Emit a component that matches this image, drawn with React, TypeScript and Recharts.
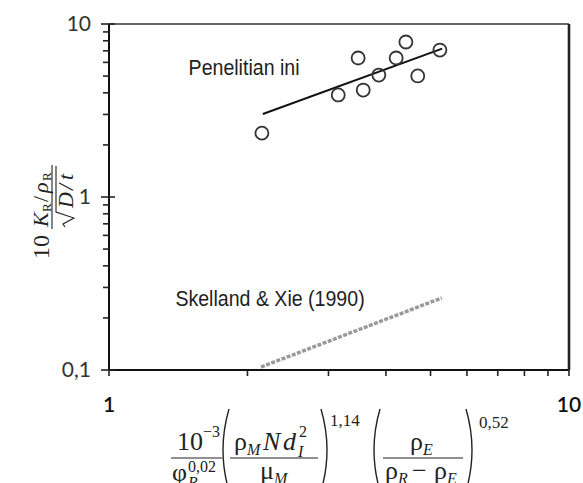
import React from 'react';
import { ComposedChart, Scatter, Line, XAxis, YAxis, ReferenceLine, ReferenceDot } from 'recharts';

// Measured points (this study)
const pointX = [2.15, 3.15, 3.57, 3.48, 3.86, 4.21, 4.42, 4.69, 5.24];
const pointY = [2.34, 3.89, 4.15, 6.36, 5.07, 6.36, 7.87, 5.01, 7.07];
// Fitted line (this study)
const fitX = [2.16, 5.3];
const fitY = [3.02, 7.2];
// Skelland & Xie (1990) correlation
const skX = [2.14, 5.29];
const skY = [0.104, 0.261];

const xTicks = [1, 2, 3, 4, 5, 6, 7, 8, 9, 10];
const yTicks = [0.1, 0.2, 0.3, 0.4, 0.5, 0.6, 0.7, 0.8, 0.9, 1, 2, 3, 4, 5, 6, 7, 8, 9, 10];
const xTickLabels: Record<string, string> = { '1': '1', '10': '10' };
const yTickLabels: Record<string, string> = { '0.1': '0,1', '1': '1', '10': '10' };

const seriesLabel1 = 'Penelitian ini';
const seriesLabel2 = 'Skelland & Xie (1990)';

const points = pointX.map((x, i) => ({ x, y: pointY[i] }));
const fitData = fitX.map((x, i) => ({ x, y: fitY[i] }));
const skData = skX.map((x, i) => ({ x, y: skY[i] }));

const SANS = "'Liberation Sans', Arial, sans-serif";
const SERIF = "'Liberation Serif', 'DejaVu Serif', serif";
const TICKFONT = "Lato, 'Open Sans', sans-serif";

const YTick = (props: any) => {
  const { x, y, payload } = props;
  const lbl = yTickLabels[String(payload.value)];
  const major = lbl !== undefined;
  return (
    <g>
      <line x1={x - (major ? 8 : 6)} x2={x + (major ? 6 : 0)} y1={y} y2={y} stroke="#222" strokeWidth={1.6} />
      {major && (
        <text x={x - 18} y={y + 7} textAnchor="end" fontSize={21} fontFamily={TICKFONT} fill="#333">
          {lbl}
        </text>
      )}
    </g>
  );
};

const XTick = (props: any) => {
  const { x, y, payload } = props;
  const lbl = xTickLabels[String(payload.value)];
  return (
    <g>
      <line x1={x} x2={x} y1={y} y2={y + 6} stroke="#222" strokeWidth={1.6} />
      {lbl !== undefined && (
        <text x={x} y={y + 42} textAnchor="middle" fontSize={21} fontWeight={600} fontFamily={TICKFONT} fill="#111">
          {lbl}
        </text>
      )}
    </g>
  );
};

const Paren = ({ x, open }: { x: number; open: boolean }) => {
  const c = open ? x - 12 : x + 12;
  return <path d={`M ${x} 409 Q ${c} 450 ${x} 491`} fill="none" stroke="#222" strokeWidth={1.4} />;
};

const XLabel = (props: any) => {
  const vb = props.viewBox || { x: 109, y: 370 };
  const dx = vb.x - 109;
  const dy = vb.y - 370;
  return (
    <g transform={`translate(${dx},${dy})`} fontFamily={SERIF} fill="#222">
      {/* 10^-3 / phi_R^0,02 */}
      <text x={177} y={450} fontSize={26}>10</text>
      <text x={203} y={437} fontSize={16}>−3</text>
      <line x1={171} x2={222} y1={458} y2={458} stroke="#222" strokeWidth={1.1} />
      <text x={172} y={481} fontSize={26}>φ</text>
      <text x={188} y={472} fontSize={16}>0,02</text>
      <text x={188} y={488} fontSize={16} fontStyle="italic">R</text>
      {/* ( rho_M N d_I^2 / mu_M ) ^1,14 */}
      <Paren x={229} open />
      <text x={234} y={450} fontSize={26}>ρ</text>
      <text x={247} y={455} fontSize={16} fontStyle="italic">M</text>
      <text x={263} y={450} fontSize={26} fontStyle="italic">N</text>
      <text x={283} y={450} fontSize={26} fontStyle="italic">d</text>
      <text x={299} y={437} fontSize={16}>2</text>
      <text x={298} y={457} fontSize={16} fontStyle="italic">I</text>
      <line x1={230} x2={318} y1={458} y2={458} stroke="#222" strokeWidth={1.1} />
      <text x={260} y={479} fontSize={26}>μ</text>
      <text x={274} y={484} fontSize={16} fontStyle="italic">M</text>
      <Paren x={321} open={false} />
      <text x={330} y={426} fontSize={17}>1,14</text>
      {/* ( rho_E / (rho_R - rho_E) ) ^0,52 */}
      <Paren x={380} open />
      <text x={410} y={450} fontSize={26}>ρ</text>
      <text x={423} y={455} fontSize={16} fontStyle="italic">E</text>
      <line x1={383} x2={463} y1={458} y2={458} stroke="#222" strokeWidth={1.1} />
      <text x={385} y={479} fontSize={26}>ρ</text>
      <text x={398} y={484} fontSize={16} fontStyle="italic">R</text>
      <text x={412} y={479} fontSize={26}>−</text>
      <text x={434} y={479} fontSize={26}>ρ</text>
      <text x={447} y={484} fontSize={16} fontStyle="italic">E</text>
      <Paren x={466} open={false} />
      <text x={479} y={428} fontSize={17}>0,52</text>
    </g>
  );
};

const YLabel = (props: any) => {
  const vb = props.viewBox || { x: 0, y: 24 };
  const dy = vb.y - 24;
  return (
    <g transform={`translate(0,${dy}) rotate(-90)`} fontFamily={SERIF} fill="#222">
      <text x={-259} y={49} fontSize={24}>10</text>
      <text x={-227} y={48} fontSize={22} fontStyle="italic">K</text>
      <text x={-212} y={51} fontSize={13}>R</text>
      <text x={-202} y={48} fontSize={22}>/</text>
      <text x={-193} y={48} fontSize={22} fontStyle="italic">ρ</text>
      <text x={-181} y={51} fontSize={13}>R</text>
      <line x1={-229} x2={-165} y1={52} y2={52} stroke="#222" strokeWidth={1.1} />
      <path d="M -227 65 L -224 63 L -218 74 L -212 56 L -166 56" fill="none" stroke="#222" strokeWidth={1.1} />
      <text x={-208} y={73} fontSize={22} fontStyle="italic">D</text>
      <text x={-190} y={73} fontSize={22} fontStyle="italic">/</text>
      <text x={-180} y={73} fontSize={22} fontStyle="italic">t</text>
    </g>
  );
};

const TextLabel = (text: string) => (props: any) => {
  const vb = props.viewBox || { x: 0, y: 0 };
  return (
    <text
      transform={`translate(${vb.x},${vb.y + 8}) scale(0.89,1)`}
      textAnchor="middle"
      fontSize={22}
      fontFamily={SANS}
      fill="#222"
    >
      {text}
    </text>
  );
};

export default function App() {
  return (
    <div style={{ position: 'absolute', left: 0, top: 0, width: 583, height: 483, background: '#fff' }}>
      <ComposedChart width={583} height={483} margin={{ top: 24, right: 14, bottom: 0, left: 0 }}>
        <XAxis
          type="number"
          dataKey="x"
          scale="log"
          domain={[1, 10]}
          allowDataOverflow
          ticks={xTicks}
          interval={0}
          height={113}
          tickSize={0}
          tickMargin={0}
          tickLine={false}
          tick={<XTick />}
          axisLine={{ stroke: '#111', strokeWidth: 2 }}
          label={<XLabel />}
        />
        <YAxis
          type="number"
          dataKey="y"
          scale="log"
          domain={[0.1, 10]}
          allowDataOverflow
          ticks={yTicks}
          interval={0}
          width={109}
          tickSize={0}
          tickMargin={0}
          tickLine={false}
          tick={<YTick />}
          axisLine={{ stroke: '#111', strokeWidth: 2 }}
          label={<YLabel />}
        />
        <ReferenceLine y={10} stroke="#333" strokeWidth={1.6} />
        <ReferenceLine x={10} stroke="#222" strokeWidth={2.6} />
        <Line
          data={skData}
          dataKey="y"
          type="linear"
          stroke="#999"
          strokeWidth={3.5}
          strokeDasharray="4 1.5"
          dot={false}
          isAnimationActive={false}
        />
        <Line
          data={fitData}
          dataKey="y"
          type="linear"
          stroke="#111"
          strokeWidth={2}
          dot={false}
          isAnimationActive={false}
        />
        <Scatter
          data={points}
          dataKey="y"
          isAnimationActive={false}
          shape={(p: any) => <circle cx={p.cx} cy={p.cy} r={6.5} fill="none" stroke="#333" strokeWidth={1.8} />}
        />
        <ReferenceDot x={1.966} y={5.64} r={0} stroke="none" fill="none" label={TextLabel(seriesLabel1)} />
        <ReferenceDot x={2.239} y={0.2607} r={0} stroke="none" fill="none" label={TextLabel(seriesLabel2)} />
      </ComposedChart>
    </div>
  );
}
